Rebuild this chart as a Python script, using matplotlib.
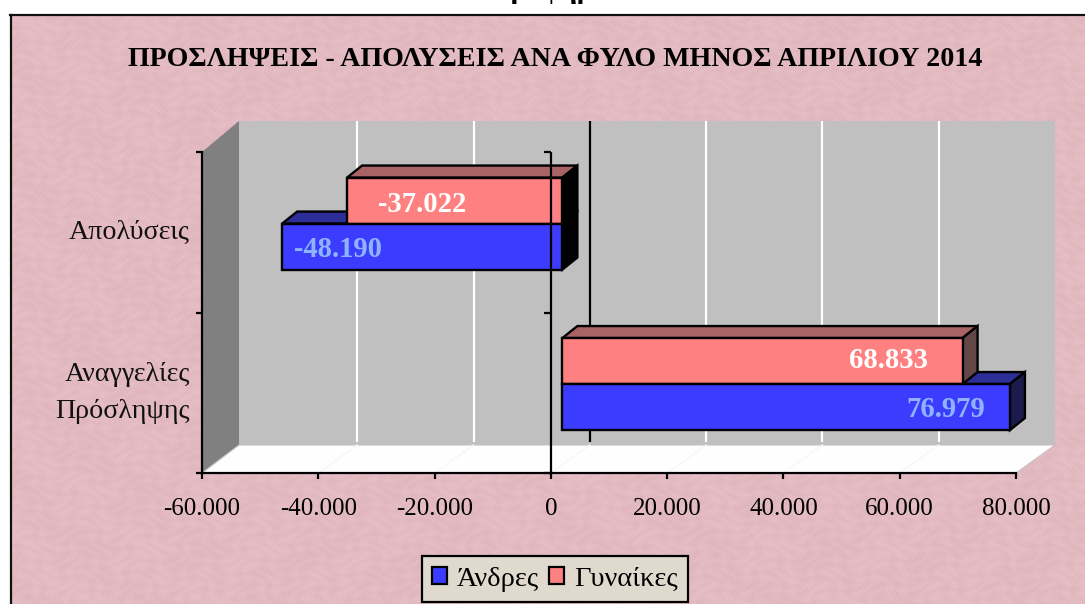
import numpy as np
import matplotlib
matplotlib.use("Agg")
import matplotlib.pyplot as plt
from matplotlib.patches import Polygon, Patch
from matplotlib.lines import Line2D
from matplotlib.transforms import Affine2D
from matplotlib.ticker import FuncFormatter

# ---- data ----
categories = ["Αναγγελίες\nΠρόσληψης", "Απολύσεις"]
men = [76979, -48190]
women = [68833, -37022]
series_names = ["Άνδρες", "Γυναίκες"]
x_ticks = [-60000, -40000, -20000, 0, 20000, 40000, 60000, 80000]
title = "ΠΡΟΣΛΗΨΕΙΣ - ΑΠΟΛΥΣΕΙΣ ΑΝΑ ΦΥΛΟ ΜΗΝΟΣ ΑΠΡΙΛΙΟΥ 2014"
clipped_heading = "Γράφημα"

# ---- style ----
W, H = 1085, 604
SERIF = "Liberation Serif"
BLUE, BLUE_TOP, BLUE_SIDE = "#3c3cff", "#2e2e99", "#1c1c4c"
RED, RED_TOP, RED_SIDE = "#ff8080", "#a86464", "#644848"
NEG_SIDE = "#000000"
L, R, T, B = 202, 1016, 152, 473

fig = plt.figure(figsize=(W / 100, H / 100), dpi=100, facecolor="white")


def fmt(v, _=None):
    return f"{v:,.0f}".replace(",", ".")


# paper-like background (decorative, deterministic)
yy, xx = np.mgrid[0:H - 15, 0:W - 11]
tex = (np.sin(xx * 0.73 + yy * 1.31) * np.sin(xx * 1.91 - yy * 0.57)
       + 0.8 * np.sin(xx * 0.17 + np.sin(yy * 0.23) * 2.1) * np.sin(yy * 0.29 + np.sin(xx * 0.11) * 2.7)
       + 0.6 * np.sin(xx * 2.71 + yy * 2.33))
base = np.array([227, 186, 193], float)
img = np.clip(base + tex[..., None] * np.array([3.5, 5.0, 5.0]), 0, 255).astype(np.uint8)
fig.figimage(img, xo=11, yo=0, origin="upper", zorder=-5)
fig.add_artist(Line2D([10 / W, 1], [1 - 14.5 / H] * 2, color="#111111", lw=1.6))
fig.add_artist(Line2D([10.5 / W] * 2, [0, 1 - 14.5 / H], color="#111111", lw=1.6))
fig.text(551 / W, 1 + 2 / H, clipped_heading, family=SERIF, fontweight="bold", fontsize=21,
         ha="center", va="baseline", color="black")

ax = fig.add_axes([L / W, 1 - B / H, (R - L) / W, (B - T) / H])
ax.set_zorder(1)
ax.patch.set_alpha(0)
ax.set_xlim(-60000, 80000)
ax.set_ylim(-0.5, 1.5)
KX = 140000 / (R - L)
KY = 2 / (B - T)


def poly(points, **kw):
    """points are (data x, data y, pixel dx, pixel dy)."""
    pts = [(x + dx * KX, y + dy * KY) for x, y, dx, dy in points]
    ax.add_patch(Polygon(pts, closed=True, **{"clip_on": False, **kw}))


xmin, xmax = ax.get_xlim()
ymin, ymax = ax.get_ylim()
# walls
poly([(xmin, ymin, 37, 28), (xmax, ymin, 39, 28), (xmax, ymax, 39, 31), (xmin, ymax, 37, 31)],
     fc="#c0c0c0", ec="none", zorder=1)
poly([(xmin, ymin, 0, 0), (xmin, ymax, 0, 0), (xmin, ymax, 37, 31), (xmin, ymin, 37, 28)],
     fc="#808080", ec="none", zorder=1.1)
poly([(xmin, ymin, 0, 0), (xmin, ymin, 37, 28), (xmax, ymin, 39, 28), (xmax, ymin, 0, 0)],
     fc="#fefefe", ec="#c8c0c0", lw=0.8, zorder=1.1)
# gridlines on back wall and floor
for v in x_ticks[1:-1]:
    c = "black" if v == 0 else "white"
    back = ax.transData + Affine2D().translate(39, 0)
    ax.plot([v, v], [ymin + 31 * KY, ymax + 31 * KY], color=c, lw=1.6, transform=back,
            clip_on=False, zorder=1.2, solid_capstyle="butt")
    ax.plot([v, v + 39 * KX], [ymin, ymin + 28 * KY], color="#f7f7f7", lw=1, clip_on=False, zorder=1.2)

# bars
SX, SY = 11.5, 8.7      # bars stand in the middle of the depth
DX, DY = 15, 12         # bar depth
BH = 46 * KY
front = ax.transData + Affine2D().translate(SX, SY)
EDGE = dict(ec="black", lw=1.7, joinstyle="miter", clip_on=False)

for i in range(len(categories)):
    m, w = men[i], women[i]
    for val, yb, top_c, side_c, z in [(m, i - BH, BLUE_TOP, BLUE_SIDE, 3), (w, i, RED_TOP, RED_SIDE, 4)]:
        end = max(val, 0)
        start = min(val, 0)
        poly([(start, yb + BH, SX, SY), (end, yb + BH, SX, SY),
              (end, yb + BH, SX + DX, SY + DY), (start, yb + BH, SX + DX, SY + DY)],
             fc=top_c, zorder=z, **EDGE)
        poly([(end, yb, SX, SY), (end, yb + BH, SX, SY),
              (end, yb + BH, SX + DX, SY + DY), (end, yb, SX + DX, SY + DY)],
             fc=NEG_SIDE if val < 0 else side_c, zorder=z, **EDGE)
bars_w = ax.barh(np.arange(len(categories)) + BH / 2, women, height=BH, left=0, color=RED,
                 transform=front, zorder=5, **EDGE)
bars_m = ax.barh(np.arange(len(categories)) - BH / 2, men, height=BH, left=0, color=BLUE,
                 transform=front, zorder=6, **EDGE)

# zero axis in front of the bars
ax.plot([0, 0], [ymin, ymax], color="black", lw=1.6, zorder=8, clip_on=False, solid_capstyle="butt")
ax.plot([0, 0, 0], [ymin, 0.5, ymax], ls="none", marker=0, ms=5, mew=1.6, color="black", zorder=8, clip_on=False)

# value labels (pixel offsets from each bar's end)
label_dx_m, label_dy_m = [-25, 12], [-1, -2]
label_dx_w, label_dy_w = [-35, 31], [2, -3]
for i in range(len(categories)):
    for vals, dxs, dys, yc, col in [(men, label_dx_m, label_dy_m, i - BH / 2, "#8fb4ff"),
                                    (women, label_dx_w, label_dy_w, i + BH / 2, "white")]:
        v = vals[i]
        ax.annotate(fmt(v), xy=(v, yc), xycoords="data",
                    xytext=(SX + dxs[i], SY + dys[i] - 1), textcoords="offset pixels",
                    ha="right" if v > 0 else "left", va="center", family=SERIF, fontweight="bold",
                    fontsize=20.6, color=col, zorder=9)

# axes decoration
for s in ("top", "right"):
    ax.spines[s].set_visible(False)
for s in ("left", "bottom"):
    ax.spines[s].set_linewidth(1.6)
    ax.spines[s].set_zorder(7)
ax.set_xticks(x_ticks)
ax.xaxis.set_major_formatter(FuncFormatter(fmt))
ax.tick_params(axis="x", length=4, width=1.6, pad=14, labelsize=18)
ax.set_yticks([-0.5, 0.5, 1.5])
ax.set_yticklabels([])
ax.tick_params(axis="y", length=4, width=1.6)
for lab in ax.get_xticklabels():
    lab.set_family(SERIF)
for i, c in enumerate(categories):
    ax.text(-60000 - 12 * KX, i, c, ha="right", va="center", family=SERIF, fontsize=20.2,
            linespacing=1.65, color="#111111", clip_on=False)

fig.text(555 / W, 1 - 60 / H, title, family=SERIF, fontweight="bold", fontsize=20.2,
         ha="center", va="center", color="black")

handles = [Patch(fc=BLUE, ec="black", lw=1.6), Patch(fc=RED, ec="black", lw=1.6)]
leg = fig.legend(handles, series_names, ncol=2, loc="center", bbox_to_anchor=(555 / W, 1 - 579 / H),
                 frameon=True, fancybox=False, framealpha=1, facecolor="#e0dace", edgecolor="black",
                 prop={"family": SERIF, "size": 20.5}, handlelength=0.53, handleheight=0.53,
                 handletextpad=0.35, columnspacing=0.35, borderpad=0.37, borderaxespad=0)
leg.set_zorder(3)
leg.get_frame().set_linewidth(1.6)

fig.savefig("out.png", dpi=100)
